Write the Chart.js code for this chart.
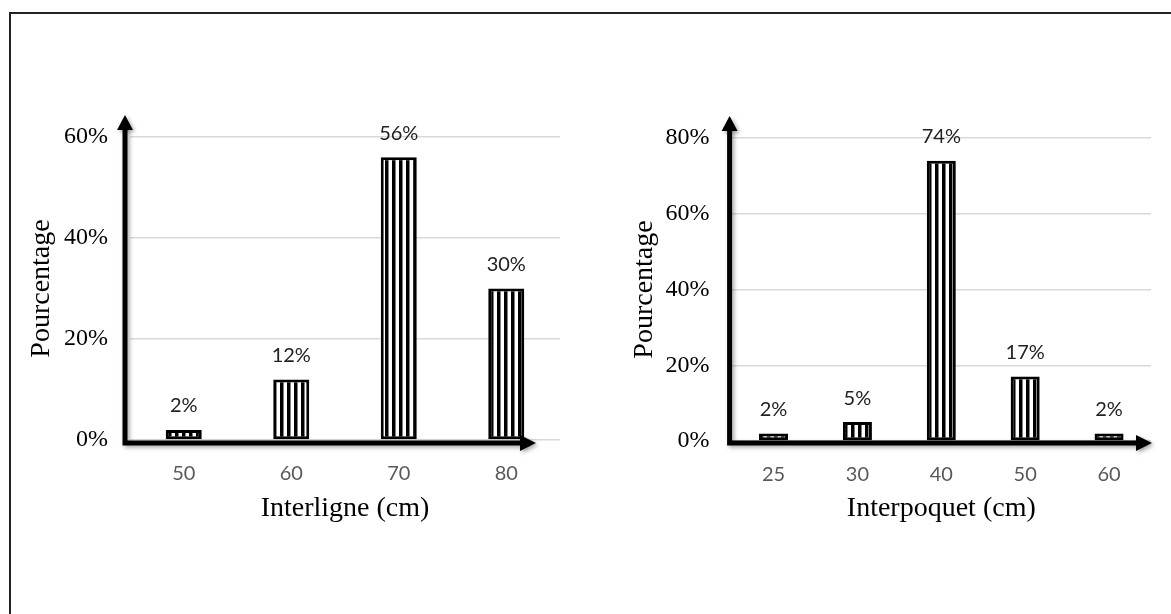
<!DOCTYPE html>
<html>
<head>
<meta charset="utf-8">
<script src="https://cdn.jsdelivr.net/npm/chart.js@4.4.1/dist/chart.umd.min.js"></script>
<style>
  html, body { margin: 0; padding: 0; background: #fff; overflow: hidden; }
  #frame { position: absolute; left: 9px; top: 12px; width: 1200px; height: 700px;
           border-left: 2px solid #222; border-top: 2px solid #222; }
  canvas { position: absolute; top: 0; }
  #left { left: 0; }
  #right { left: 585px; }
</style>
</head>
<body>
<div id="frame"></div>
<canvas id="left" width="585" height="614"></canvas>
<canvas id="right" width="586" height="614"></canvas>
<script>
/* ---------------- DATA ---------------- */
const leftCategories = ["50", "60", "70", "80"];
const leftValues = [2, 12, 56, 30];
const leftTitle = "Interligne (cm)";
const leftMax = 60;

const rightCategories = ["25", "30", "40", "50", "60"];
const rightValues = [2, 5, 74, 17, 2];
const rightTitle = "Interpoquet (cm)";
const rightMax = 80;

const yTitle = "Pourcentage";

/* ---------------- STRIPE PATTERN ---------------- */
function stripes() {
  const c = document.createElement("canvas");
  c.width = 7;
  c.height = 7;
  const g = c.getContext("2d");
  g.fillStyle = "#fff";
  g.fillRect(0, 0, 7, 7);
  g.fillStyle = "#000";
  g.fillRect(0, 0, 3.5, 7);
  return g.createPattern(c, "repeat");
}

/* ---------------- PLUGINS ---------------- */
const valueLabels = {
  id: "valueLabels",
  afterDatasetsDraw(chart) {
    const { ctx } = chart;
    const meta = chart.getDatasetMeta(0);
    const data = chart.data.datasets[0].data;
    ctx.save();
    ctx.font = "20px Lato, 'Open Sans', sans-serif";
    ctx.fillStyle = "#222";
    ctx.textAlign = "center";
    ctx.textBaseline = "middle";
    meta.data.forEach((bar, i) => {
      ctx.fillText(data[i] + "%", bar.x, bar.y - 24);
    });
    ctx.restore();
  },
};

const axisArrows = {
  id: "axisArrows",
  afterDraw(chart, args, opts) {
    const { ctx, chartArea: a } = chart;
    const x0 = a.left + opts.dx;
    const y0 = a.bottom + opts.dy;
    const xEnd = a.right + opts.xEnd;
    const yEnd = a.top - 22;
    ctx.save();
    ctx.shadowColor = "rgba(0,0,0,0.35)";
    ctx.shadowBlur = 4;
    ctx.shadowOffsetX = 2;
    ctx.shadowOffsetY = 2;
    ctx.strokeStyle = "#000";
    ctx.fillStyle = "#000";
    ctx.lineWidth = 5;
    ctx.lineJoin = "miter";
    ctx.beginPath();
    ctx.moveTo(x0, yEnd + 12);
    ctx.lineTo(x0, y0);
    ctx.lineTo(xEnd - 12, y0);
    ctx.stroke();
    // arrow heads
    ctx.beginPath();
    ctx.moveTo(x0, yEnd);
    ctx.lineTo(x0 - 8, yEnd + 15);
    ctx.lineTo(x0 + 8, yEnd + 15);
    ctx.closePath();
    ctx.fill();
    ctx.beginPath();
    ctx.moveTo(xEnd, y0);
    ctx.lineTo(xEnd - 16, y0 - 8);
    ctx.lineTo(xEnd - 16, y0 + 8);
    ctx.closePath();
    ctx.fill();
    ctx.restore();
  },
};

/* ---------------- CHART ---------------- */
function makeChart(id, categories, values, xTitle, yMax, cfg) {
  const ctx = document.getElementById(id).getContext("2d");
  return new Chart(ctx, {
    type: "bar",
    data: {
      labels: categories,
      datasets: [
        {
          data: values,
          backgroundColor: stripes(),
          borderColor: "#000",
          borderWidth: 3,
          borderSkipped: false,
          barPercentage: cfg.barPct,
          categoryPercentage: 1,
        },
      ],
    },
    plugins: [valueLabels, axisArrows],
    options: {
      responsive: false,
      animation: false,
      layout: { padding: { top: cfg.top, left: 0, right: cfg.right, bottom: 0 } },
      plugins: {
        legend: { display: false },
        tooltip: { enabled: false },
        axisArrows: cfg.arrows,
      },
      scales: {
        x: {
          grid: { display: false },
          border: { display: false },
          ticks: {
            color: "#595959",
            font: { family: "Lato, 'Open Sans', sans-serif", size: 20 },
            padding: 14,
          },
          title: {
            display: true,
            text: xTitle,
            color: "#000",
            font: { family: "'Liberation Serif', 'Times New Roman', serif", size: 28 },
            padding: { top: 0, bottom: 89 },
          },
          afterFit: (s) => { s.height = cfg.xHeight; },
        },
        y: {
          min: 0,
          max: yMax,
          grid: { color: "#d9d9d9", lineWidth: 1.5, drawTicks: false },
          border: { display: false },
          ticks: {
            stepSize: 20,
            color: "#000",
            padding: 22,
            font: { family: "'Liberation Serif', 'Times New Roman', serif", size: 24 },
            callback: (v) => v + "%",
          },
          title: {
            display: true,
            text: yTitle,
            color: "#000",
            font: { family: "'Liberation Serif', 'Times New Roman', serif", size: 28 },
            padding: { top: cfg.titlePad, bottom: 0 },
          },
          afterFit: (s) => { s.width = cfg.yWidth; },
        },
      },
    },
  });
}

makeChart("left", leftCategories, leftValues, leftTitle, leftMax, {
  barPct: 0.335, top: 137, right: 25, xHeight: 174, yWidth: 130, titlePad: 25,
  arrows: { dx: -5, dy: 3, xEnd: -24 },
});

makeChart("right", rightCategories, rightValues, rightTitle, rightMax, {
  barPct: 0.346, top: 138, right: 20, xHeight: 173, yWidth: 146.6, titlePad: 43,
  arrows: { dx: -2, dy: 2, xEnd: 1 },
});
</script>
</body>
</html>
